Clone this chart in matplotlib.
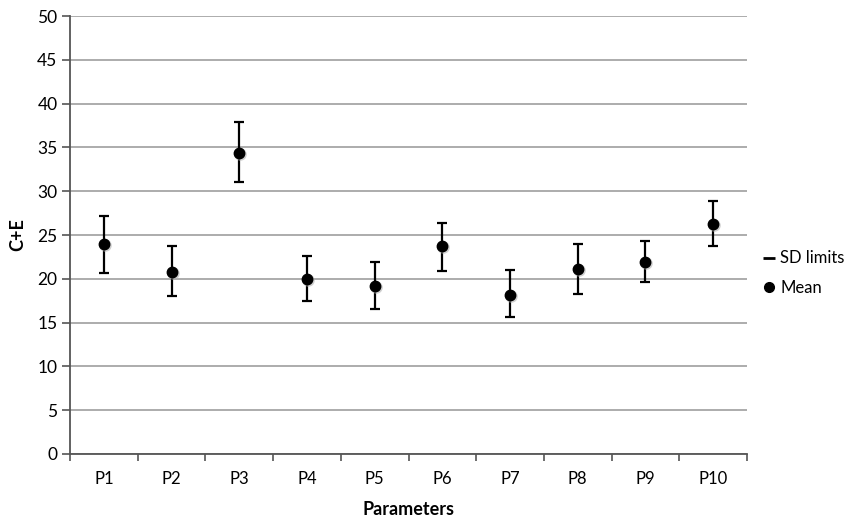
import matplotlib.pyplot as plt
from matplotlib.lines import Line2D
from matplotlib import transforms

plt.rcParams['font.family'] = ['Lato', 'DejaVu Sans']

params = ["P1", "P2", "P3", "P4", "P5", "P6", "P7", "P8", "P9", "P10"]
mean = [24.0, 20.8, 34.4, 20.0, 19.2, 23.7, 18.2, 21.1, 21.9, 26.3]
sd_upper = [27.2, 23.7, 37.9, 22.6, 21.9, 26.4, 21.0, 24.0, 24.3, 28.9]
sd_lower = [20.7, 18.0, 31.0, 17.5, 16.6, 20.9, 15.6, 18.3, 19.6, 23.7]

x = list(range(len(params)))
err_low = [m - lo for m, lo in zip(mean, sd_lower)]
err_high = [hi - m for m, hi in zip(mean, sd_upper)]

fig = plt.figure(figsize=(8.56, 5.22), dpi=100)
ax = fig.add_axes([0.0818, 0.1303, 0.7909, 0.839])

ax.errorbar(x, mean, yerr=[err_low, err_high], fmt='none', ecolor='black',
            elinewidth=1.6, capsize=3.4, capthick=1.6, zorder=3)

# soft shadow under the mean markers
shadow = transforms.offset_copy(ax.transData, fig=fig, x=1.0, y=-1.0, units='dots')
ax.plot(x, mean, 'o', color='#b0b0b0', markersize=9, alpha=0.6,
        markeredgewidth=0, transform=shadow, zorder=3.5)
ax.plot(x, mean, 'o', color='black', markersize=7.5, zorder=4)

ax.set_xlim(-0.5, 9.5)
ax.set_ylim(0, 50)
ax.set_yticks(range(0, 51, 5))
ax.set_xticks(x)
ax.set_xticklabels(params)
ax.set_xticks([i - 0.5 for i in range(len(params) + 1)], minor=True)
ax.tick_params(axis='x', which='major', length=0, pad=12, labelsize=12)
ax.tick_params(axis='x', which='minor', length=5, width=1.2, color='#555555', direction='out')
ax.tick_params(axis='y', length=6, width=1.2, color='#555555', labelsize=12.5, pad=3)

ax.grid(axis='y', color='#a6a6a6', linewidth=1.3)
ax.set_axisbelow(True)
for side in ['top', 'right']:
    ax.spines[side].set_visible(False)
for side in ['left', 'bottom']:
    ax.spines[side].set_color('#555555')
    ax.spines[side].set_linewidth(1.3)

ax.set_xlabel("Parameters", fontsize=13, fontweight='bold', labelpad=10)
ax.set_ylabel("C+E", fontsize=13, fontweight='bold', labelpad=8)

handles = [
    Line2D([], [], color='black', marker='_', linestyle='none', markersize=8, markeredgewidth=2),
    Line2D([], [], color='black', marker='o', linestyle='none', markersize=7),
]
fig.legend(handles, ["SD limits", "Mean"], loc='center left',
           bbox_to_anchor=(0.893, 0.477), frameon=False, fontsize=12,
           borderpad=0, borderaxespad=0, handlelength=0.6, handletextpad=0.35,
           labelspacing=0.8)

fig.savefig("out.png", dpi=100)
